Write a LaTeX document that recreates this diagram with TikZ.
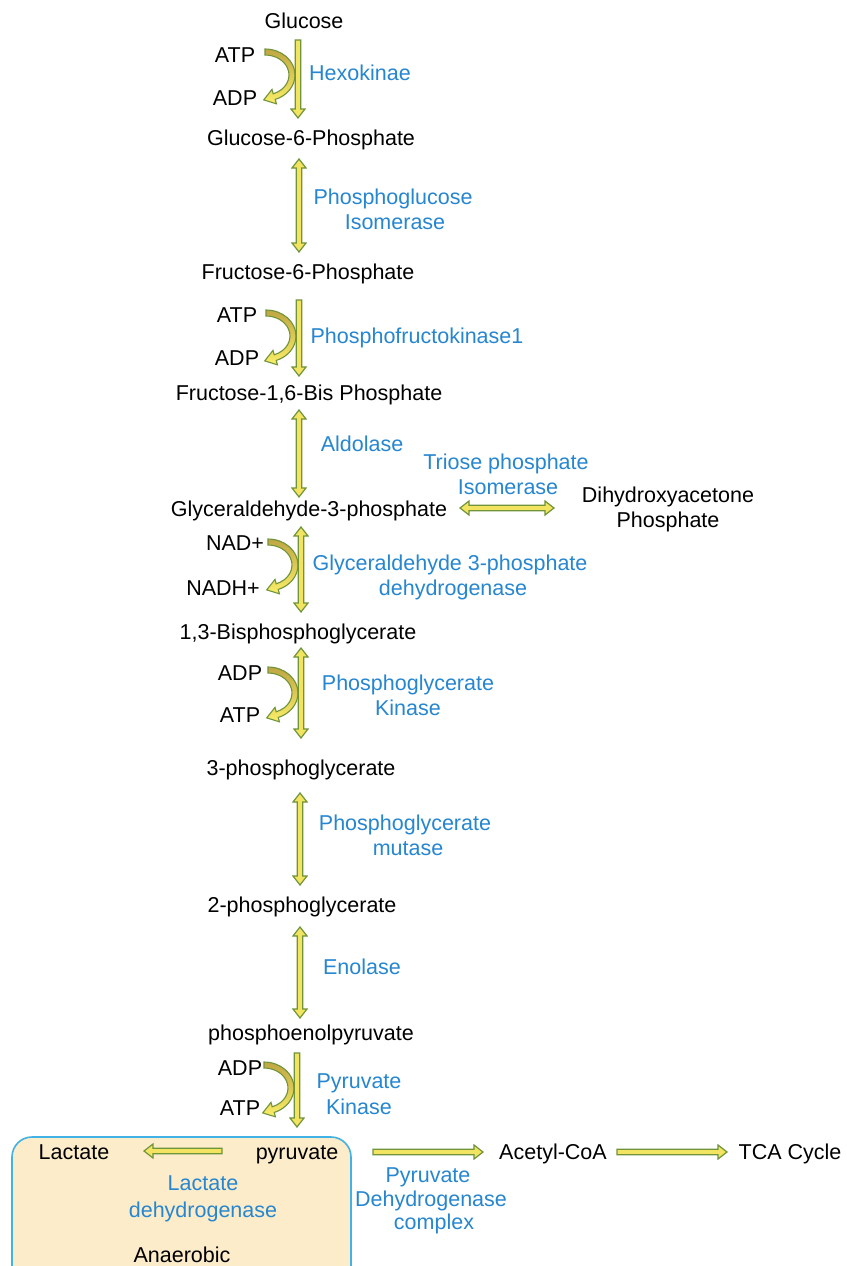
\documentclass[tikz,border=0pt]{standalone}
\usepackage{fontspec}
\setmainfont{Liberation Sans}
\usetikzlibrary{calc}
\definecolor{arrfill}{RGB}{242,228,96}
\definecolor{arrline}{RGB}{112,148,58}
\definecolor{curvtop}{RGB}{192,166,66}
\definecolor{curvbot}{RGB}{250,238,104}
\definecolor{enzblue}{RGB}{38,134,208}
\definecolor{boxfill}{RGB}{252,236,202}
\definecolor{boxline}{RGB}{64,178,230}
\tikzset{
  arr/.style={fill=arrfill, draw=arrline, line width=1.2pt, line join=miter},
  mol/.style={anchor=base, inner sep=0pt, font=\fontsize{21.5}{25}\selectfont, text=black},
  enz/.style={mol, text=enzblue},
  pics/curvarr/.style={code={
    \shadedraw[top color=curvtop, bottom color=curvbot, draw=arrline, line width=1.1pt]
      (0,26) arc[start angle=90, end angle=-70, x radius=30, y radius=26]
      -- (11.4,-28.8) -- (-1.3,-24.9) -- (7.0,-14.4) -- (8.21,-18.79)
      arc[start angle=-70, end angle=90, x radius=24, y radius=20] -- cycle;
  }}
}
\newcommand\onearr[2]{%
  \coordinate (tmpc) at ($(#2)!9pt!(#1)$);
  \filldraw[arr] ($(#1)!2.7pt!90:(#2)$) -- ($(tmpc)!2.7pt!90:(#2)$) -- ($(tmpc)!7pt!90:(#2)$)
    -- (#2) -- ($(tmpc)!7pt!-90:(#2)$) -- ($(tmpc)!2.7pt!-90:(#2)$) -- ($(#1)!2.7pt!-90:(#2)$) -- cycle;}
\newcommand\twoarr[2]{%
  \coordinate (tmpa) at ($(#1)!9pt!(#2)$);
  \coordinate (tmpb) at ($(#2)!9pt!(#1)$);
  \filldraw[arr] (#1) -- ($(tmpa)!7pt!90:(#2)$) -- ($(tmpa)!2.7pt!90:(#2)$) -- ($(tmpb)!2.7pt!90:(#2)$)
    -- ($(tmpb)!7pt!90:(#2)$) -- (#2) -- ($(tmpb)!7pt!-90:(#2)$) -- ($(tmpb)!2.7pt!-90:(#2)$)
    -- ($(tmpa)!2.7pt!-90:(#2)$) -- ($(tmpa)!7pt!-90:(#2)$) -- cycle;}
\begin{document}
\begin{tikzpicture}[x=1pt,y=1pt]
\useasboundingbox (0,0) rectangle (846,-1266);
\clip (0,0) rectangle (846,-1266);
\fill[white] (0,0) rectangle (846,-1266);

% anaerobic box
\draw[fill=boxfill, draw=boxline, line width=1.6pt, rounded corners=20pt] (12,-1137) rectangle (351,-1300);

% molecules
\node[mol] (glc) at (304,-28) {Glucose};
\node[mol] (atp1) at (235,-62) {ATP};
\node[mol] (adp1) at (235,-105) {ADP};
\node[mol] (g6p) at (311,-145) {Glucose-6-Phosphate};
\node[mol] (f6p) at (308,-279) {Fructose-6-Phosphate};
\node[mol] (atp3) at (237,-322) {ATP};
\node[mol] (adp3) at (237,-365) {ADP};
\node[mol] (fbp) at (309,-400) {Fructose-1,6-Bis Phosphate};
\node[mol] (gap) at (309,-516) {Glyceraldehyde-3-phosphate};
\node[mol] (dhap1) at (668,-502) {Dihydroxyacetone};
\node[mol] (dhap2) at (668,-527) {Phosphate};
\node[mol] (nad) at (235,-550) {NAD+};
\node[mol] (nadh) at (223,-595) {NADH+};
\node[mol] (bpg) at (298,-639) {1,3-Bisphosphoglycerate};
\node[mol] (adp6) at (240,-680) {ADP};
\node[mol] (atp6) at (240,-722) {ATP};
\node[mol] (pg3) at (301,-775) {3-phosphoglycerate};
\node[mol] (pg2) at (302,-912) {2-phosphoglycerate};
\node[mol] (pep) at (311,-1040) {phosphoenolpyruvate};
\node[mol] (adp9) at (240,-1075) {ADP};
\node[mol] (atp9) at (240,-1115) {ATP};
\node[mol] (lac) at (74,-1159) {Lactate};
\node[mol] (pyr) at (297,-1159) {pyruvate};
\node[mol] (acoa) at (553,-1159) {Acetyl-CoA};
\node[mol] (tca) at (790,-1159) {TCA Cycle};
\node[mol] (anae) at (182,-1262) {Anaerobic};

% enzymes
\node[enz] (hk) at (360,-80) {Hexokinae};
\node[enz] (pgi1) at (393,-204) {Phosphoglucose};
\node[enz] (pgi2) at (395,-229) {Isomerase};
\node[enz] (pfk) at (417,-343) {Phosphofructokinase1};
\node[enz] (ald) at (362,-451) {Aldolase};
\node[enz] (tpi1) at (506,-469) {Triose phosphate};
\node[enz] (tpi2) at (508,-494) {Isomerase};
\node[enz] (gapdh1) at (450,-570) {Glyceraldehyde 3-phosphate};
\node[enz] (gapdh2) at (453,-595) {dehydrogenase};
\node[enz] (pgk1) at (408,-690) {Phosphoglycerate};
\node[enz] (pgk2) at (408,-715) {Kinase};
\node[enz] (pgm1) at (405,-830) {Phosphoglycerate};
\node[enz] (pgm2) at (408,-855) {mutase};
\node[enz] (eno) at (362,-974) {Enolase};
\node[enz] (pk1) at (359,-1088) {Pyruvate};
\node[enz] (pk2) at (359,-1114) {Kinase};
\node[enz] (ldh1) at (203,-1190) {Lactate};
\node[enz] (ldh2) at (203,-1217) {dehydrogenase};
\node[enz] (pdh1) at (428,-1182) {Pyruvate};
\node[enz] (pdh2) at (431,-1206) {Dehydrogenase};
\node[enz] (pdh3) at (434,-1229) {complex};

% arrow end points
\coordinate (a1s) at (298,-40);   \coordinate (a1e) at (298,-118);
\coordinate (a2s) at (299,-159);  \coordinate (a2e) at (299,-252);
\coordinate (a3s) at (299,-300);  \coordinate (a3e) at (299,-376);
\coordinate (a4s) at (299,-410);  \coordinate (a4e) at (299,-497);
\coordinate (a5s) at (301,-527);  \coordinate (a5e) at (301,-612);
\coordinate (a6s) at (301,-648);  \coordinate (a6e) at (301,-738);
\coordinate (a7s) at (300,-793);  \coordinate (a7e) at (300,-885);
\coordinate (a8s) at (300,-927);  \coordinate (a8e) at (300,-1018);
\coordinate (a9s) at (297,-1053); \coordinate (a9e) at (297,-1127);
\coordinate (h1s) at (460,-508);  \coordinate (h1e) at (554,-508);
\coordinate (h2s) at (222,-1151); \coordinate (h2e) at (144,-1151);
\coordinate (h3s) at (373,-1152); \coordinate (h3e) at (483,-1152);
\coordinate (h4s) at (617,-1152); \coordinate (h4e) at (727,-1152);

% side curved arrows
\pic at (265,-75) {curvarr};
\pic at (266,-336) {curvarr};
\pic at (268,-565) {curvarr};
\pic at (268,-693) {curvarr};
\pic at (264,-1088) {curvarr};

% main arrows
\onearr{a1s}{a1e}
\twoarr{a2s}{a2e}
\onearr{a3s}{a3e}
\twoarr{a4s}{a4e}
\twoarr{a5s}{a5e}
\twoarr{a6s}{a6e}
\twoarr{a7s}{a7e}
\twoarr{a8s}{a8e}
\onearr{a9s}{a9e}
\twoarr{h1s}{h1e}
\onearr{h2s}{h2e}
\onearr{h3s}{h3e}
\onearr{h4s}{h4e}
\end{tikzpicture}
\end{document}
